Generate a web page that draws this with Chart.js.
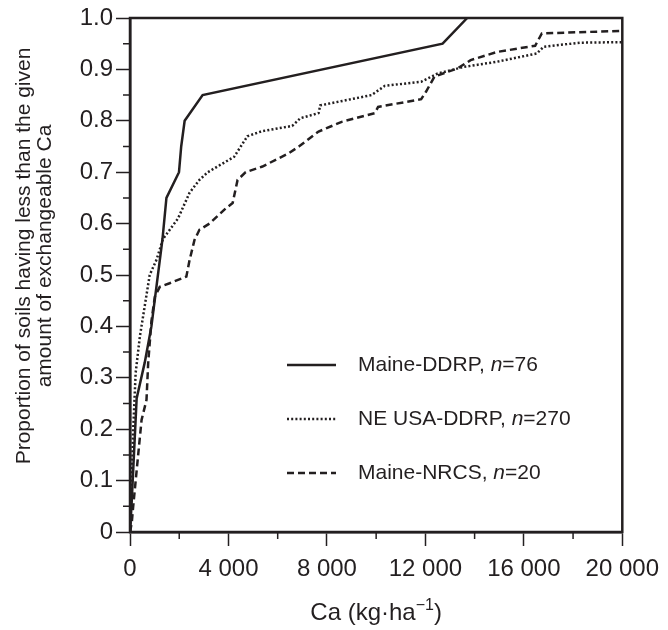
<!DOCTYPE html>
<html>
<head>
<meta charset="utf-8">
<script src="https://cdn.jsdelivr.net/npm/chart.js@4"></script>
<style>
  html, body { margin: 0; padding: 0; background: #fff; }
  #wrap { width: 668px; height: 630px; }
</style>
</head>
<body>
<div id="wrap"><canvas id="cdfChart" width="668" height="630"></canvas></div>
<script>
// cumulative distributions (Ca in kg/ha, proportion)
const ddrpMaineX = [0, 60, 270, 600, 870, 1320, 1480, 1990, 2080, 2220, 2950, 12700, 13700];
const ddrpMaineY = [0, 0.05, 0.26, 0.33, 0.40, 0.57, 0.65, 0.70, 0.75, 0.80, 0.85, 0.95, 1.0];

const ddrpNeX = [0, 40, 130, 230, 400, 600, 800, 1080, 1340, 1950, 2420, 2820, 3160, 4230, 4770,
  5380, 6590, 6920, 7660, 7730, 9810, 10350, 11830, 12500, 13580, 14920, 16530, 16800, 18280, 20000];
const ddrpNeY = [0, 0.05, 0.20, 0.31, 0.38, 0.44, 0.50, 0.53, 0.57, 0.61, 0.66, 0.685, 0.70, 0.73, 0.77,
  0.78, 0.79, 0.805, 0.815, 0.83, 0.85, 0.868, 0.876, 0.892, 0.905, 0.915, 0.931, 0.944, 0.952, 0.953];

const nrcsX = [0, 70, 130, 340, 470, 670, 740, 870, 1010, 1210, 1610, 2290, 2420, 2620, 2820, 3230,
  3900, 4170, 4370, 4700, 5380, 6450, 6860, 7660, 8600, 9950, 10080, 11830, 12030, 12370, 13310,
  13840, 14920, 16460, 16730, 20000];
const nrcsY = [0, 0.017, 0.05, 0.154, 0.218, 0.257, 0.33, 0.41, 0.458, 0.477, 0.484, 0.497, 0.529,
  0.568, 0.588, 0.60, 0.63, 0.64, 0.685, 0.70, 0.711, 0.737, 0.75, 0.779, 0.798, 0.815, 0.827, 0.842,
  0.857, 0.886, 0.902, 0.918, 0.934, 0.946, 0.970, 0.975];

const seriesNames = ["Maine-DDRP", "NE USA-DDRP", "Maine-NRCS"];
const sampleSizes = [76, 270, 20];

const yTitleLines = ["Proportion of soils having less than the given", "amount of exchangeable Ca"];

const ink = "#231f20";
const fontFamily = "'Liberation Sans', Arial, sans-serif";

function toPoints(xs, ys) {
  return xs.map((x, i) => ({ x: x, y: ys[i] }));
}

// frame, minor ticks, legend and axis titles
const decorations = {
  id: "decorations",
  afterDraw(chart) {
    const ctx = chart.ctx;
    const area = chart.chartArea;
    const xs = chart.scales.x;
    const ys = chart.scales.y;
    ctx.save();
    ctx.strokeStyle = ink;
    ctx.fillStyle = ink;

    ctx.lineWidth = 2.5;
    ctx.strokeRect(area.left, area.top, area.right - area.left, area.bottom - area.top);

    // minor ticks
    ctx.lineWidth = 1.5;
    ctx.beginPath();
    for (let v = 2000; v < 20000; v += 4000) {
      const px = xs.getPixelForValue(v);
      ctx.moveTo(px, area.bottom);
      ctx.lineTo(px, area.bottom + 7);
    }
    for (let v = 0.05; v < 1; v += 0.1) {
      const py = ys.getPixelForValue(v);
      ctx.moveTo(area.left, py);
      ctx.lineTo(area.left - 7, py);
    }
    ctx.stroke();

    // legend
    const lx = area.left + 157;
    chart.data.datasets.forEach((ds, i) => {
      const ly = ys.getPixelForValue(0.325 - i * 0.105);
      ctx.lineWidth = 2.5;
      ctx.setLineDash(ds.borderDash || []);
      ctx.beginPath();
      ctx.moveTo(lx, ly);
      ctx.lineTo(lx + 49, ly);
      ctx.stroke();
      ctx.setLineDash([]);
      ctx.textBaseline = "middle";
      ctx.textAlign = "left";
      let tx = lx + 71;
      const parts = [[seriesNames[i] + ", ", ""], ["n", "italic "], ["=" + sampleSizes[i], ""]];
      parts.forEach(p => {
        ctx.font = p[1] + "21px " + fontFamily;
        ctx.fillText(p[0], tx, ly);
        tx += ctx.measureText(p[0]).width;
      });
    });

    // x title with superscript
    const main1 = "Ca (kg\u00b7ha";
    const sup = "\u22121";
    const main2 = ")";
    ctx.font = "24px " + fontFamily;
    const w1 = ctx.measureText(main1).width;
    const w3 = ctx.measureText(main2).width;
    ctx.font = "16px " + fontFamily;
    const w2 = ctx.measureText(sup).width;
    let tx = (area.left + area.right) / 2 - (w1 + w2 + w3) / 2;
    const base = 620;
    ctx.textBaseline = "alphabetic";
    ctx.textAlign = "left";
    ctx.font = "24px " + fontFamily;
    ctx.fillText(main1, tx, base);
    ctx.font = "16px " + fontFamily;
    ctx.fillText(sup, tx + w1, base - 10);
    ctx.font = "24px " + fontFamily;
    ctx.fillText(main2, tx + w1 + w2, base);

    // y title, two lines rotated
    ctx.font = "21px " + fontFamily;
    ctx.textAlign = "center";
    ctx.textBaseline = "middle";
    ctx.translate(24, 256);
    ctx.rotate(-Math.PI / 2);
    yTitleLines.forEach((line, i) => ctx.fillText(line, 0, i * 21));
    ctx.restore();
  }
};

const ctx = document.getElementById("cdfChart").getContext("2d");

const cdfChart = new Chart(ctx, {
  type: "line",
  data: {
    datasets: [
      {
        label: seriesNames[0],
        data: toPoints(ddrpMaineX, ddrpMaineY),
        borderColor: ink,
        borderWidth: 2.5,
        borderDash: []
      },
      {
        label: seriesNames[1],
        data: toPoints(ddrpNeX, ddrpNeY),
        borderColor: ink,
        borderWidth: 2.5,
        borderDash: [2, 2.2]
      },
      {
        label: seriesNames[2],
        data: toPoints(nrcsX, nrcsY),
        borderColor: ink,
        borderWidth: 2.5,
        borderDash: [7, 4]
      }
    ]
  },
  options: {
    responsive: false,
    animation: false,
    devicePixelRatio: 1,
    layout: { padding: { top: 18, right: 42, left: 0, bottom: 0 } },
    elements: {
      point: { radius: 0 },
      line: { tension: 0, fill: false, borderCapStyle: "butt" }
    },
    plugins: {
      legend: { display: false },
      tooltip: { enabled: false }
    },
    scales: {
      x: {
        type: "linear",
        min: 0,
        max: 20000,
        afterFit(scale) { scale.height = 98; },
        ticks: {
          stepSize: 4000,
          color: ink,
          padding: 9,
          maxRotation: 0,
          font: { family: fontFamily, size: 24 },
          callback: v => v === 0 ? "0" : String(v).replace(/\B(?=(\d{3})+(?!\d))/g, " ")
        },
        grid: {
          drawOnChartArea: false,
          drawTicks: true,
          tickLength: 14,
          tickWidth: 1.5,
          tickColor: ink
        },
        border: { display: true, color: ink, width: 2.5 }
      },
      y: {
        min: 0,
        max: 1,
        afterFit(scale) { scale.width = 130; },
        ticks: {
          stepSize: 0.1,
          color: ink,
          padding: 3,
          font: { family: fontFamily, size: 24 },
          callback: v => v === 0 ? "0" : v.toFixed(1)
        },
        grid: {
          drawOnChartArea: false,
          drawTicks: true,
          tickLength: 14,
          tickWidth: 1.5,
          tickColor: ink
        },
        border: { display: true, color: ink, width: 2.5 }
      }
    }
  },
  plugins: [decorations]
});
</script>
</body>
</html>
